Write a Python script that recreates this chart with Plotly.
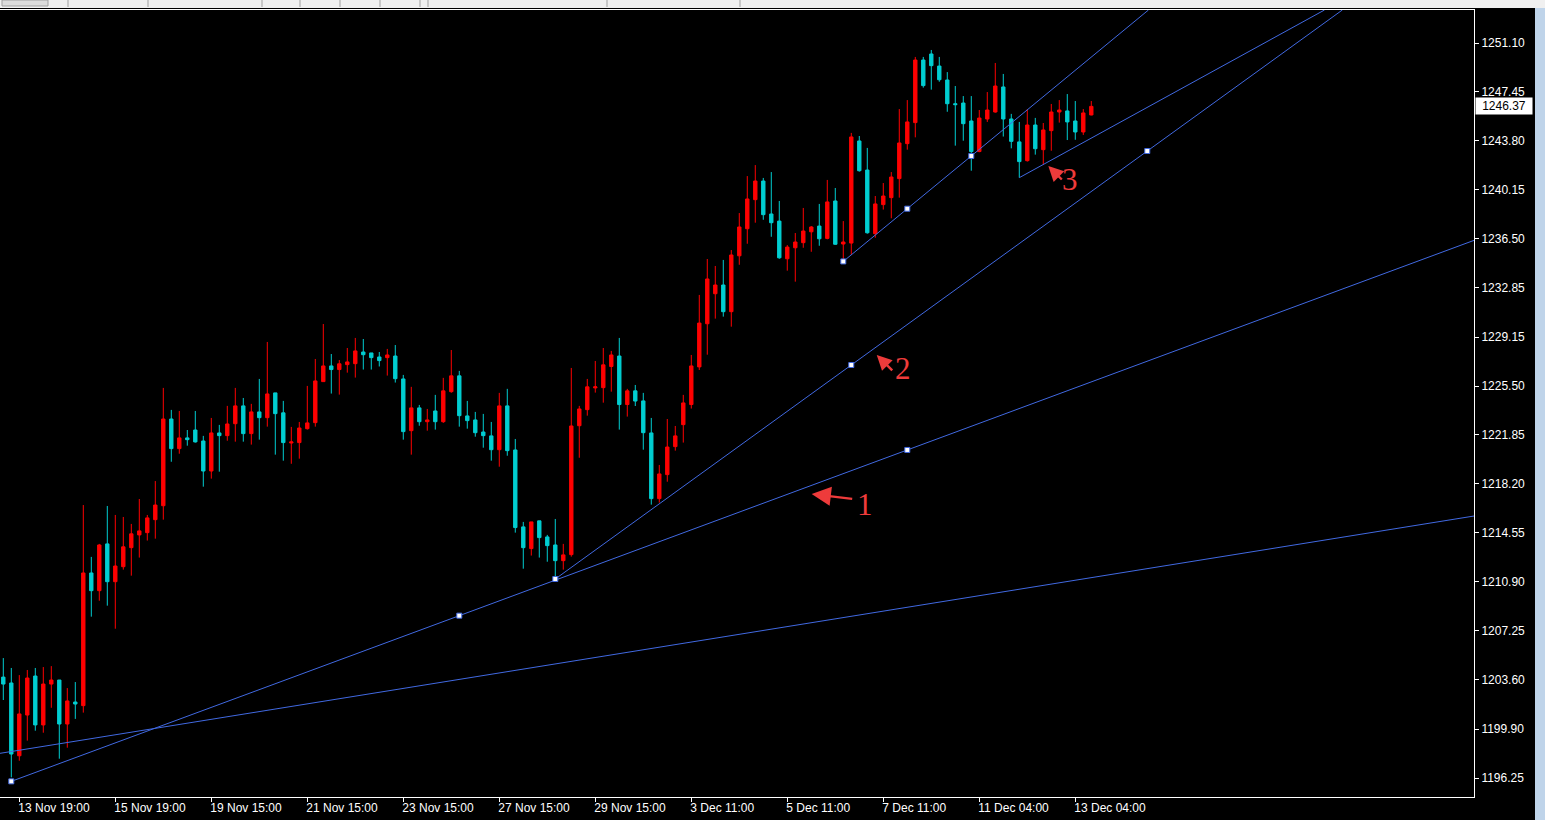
import plotly.graph_objects as go

# ---------------- data (H4 bars, XAUUSD-like) ----------------
bar_index = list(range(137))

open_ = [1203.78, 1203.34, 1197.91, 1200.95, 1203.86, 1200.21, 1203.26, 1203.56, 1200.28, 1201.92,
         1201.65, 1211.55, 1210.23, 1213.72, 1210.90, 1212.02, 1213.44, 1214.39, 1214.56, 1215.53,
         1216.57, 1223.04, 1220.83, 1221.63, 1222.22, 1221.40, 1219.16, 1222.00, 1221.80, 1222.69,
         1224.02, 1221.95, 1223.57, 1223.14, 1224.99, 1223.50, 1221.25, 1221.28, 1222.32, 1222.77,
         1225.83, 1227.00, 1226.73, 1227.10, 1227.17, 1228.04, 1227.97, 1227.67, 1227.62, 1227.74,
         1226.03, 1222.17, 1223.87, 1222.84, 1223.64, 1222.84, 1225.08, 1226.26, 1223.27, 1222.97,
         1222.07, 1221.78, 1220.75, 1224.02, 1220.73, 1214.99, 1213.37, 1215.44, 1214.24, 1213.64,
         1212.47, 1212.92, 1222.54, 1223.74, 1225.36, 1225.38, 1226.96, 1227.74, 1224.12, 1225.14,
         1224.39, 1222.00, 1217.10, 1218.89, 1220.98, 1222.62, 1224.12, 1226.93, 1230.15, 1232.39,
         1233.04, 1231.05, 1235.22, 1237.24, 1239.41, 1240.80, 1238.34, 1237.81, 1235.00, 1235.82,
         1236.20, 1237.01, 1237.44, 1236.52, 1239.31, 1236.10, 1236.17, 1243.79, 1241.62, 1236.87,
         1239.04, 1239.56, 1240.98, 1243.59, 1245.16, 1249.83, 1250.28, 1249.38, 1248.34, 1246.57,
         1246.62, 1245.28, 1243.00, 1245.43, 1245.95, 1247.82, 1245.43, 1243.72, 1242.32, 1244.98,
         1243.14, 1244.56, 1245.95, 1246.03, 1245.28, 1244.46, 1245.73]

high = [1205.20, 1204.46, 1203.93, 1204.31, 1204.46, 1204.53, 1204.60, 1203.56, 1202.96, 1203.41,
        1216.62, 1212.75, 1213.72, 1216.55, 1215.88, 1215.73, 1215.21, 1217.07, 1215.88, 1218.41,
        1225.36, 1223.72, 1223.64, 1222.22, 1223.64, 1221.78, 1223.12, 1222.60, 1224.02, 1225.36,
        1224.61, 1224.17, 1226.03, 1228.79, 1224.99, 1224.39, 1222.45, 1222.82, 1225.51, 1227.52,
        1230.13, 1227.89, 1227.44, 1228.34, 1229.09, 1229.01, 1227.97, 1228.04, 1228.27, 1228.56,
        1226.33, 1225.44, 1224.09, 1223.79, 1224.84, 1226.11, 1228.19, 1226.63, 1224.39, 1223.57,
        1223.42, 1222.82, 1224.99, 1225.29, 1221.55, 1215.36, 1215.36, 1215.44, 1214.39, 1215.58,
        1213.72, 1226.85, 1224.02, 1226.03, 1227.37, 1228.34, 1228.12, 1229.09, 1225.29, 1225.58,
        1224.99, 1223.12, 1219.61, 1223.04, 1222.52, 1224.84, 1227.82, 1232.30, 1234.98, 1234.46,
        1234.91, 1235.65, 1238.41, 1241.17, 1241.99, 1241.03, 1241.47, 1239.31, 1236.02, 1236.92,
        1238.79, 1237.44, 1239.09, 1240.88, 1240.28, 1237.81, 1244.39, 1244.16, 1243.27, 1239.68,
        1240.65, 1241.47, 1246.17, 1246.84, 1250.06, 1250.06, 1250.58, 1250.06, 1248.93, 1247.89,
        1247.14, 1247.14, 1246.10, 1247.44, 1249.61, 1248.79, 1245.81, 1245.21, 1246.17, 1245.51,
        1245.13, 1246.55, 1246.84, 1247.29, 1246.77, 1246.17, 1246.77]

low = [1202.07, 1196.30, 1197.54, 1199.04, 1199.78, 1199.63, 1201.49, 1197.69, 1198.51, 1200.66,
       1201.13, 1208.29, 1209.48, 1209.11, 1207.39, 1211.80, 1211.35, 1212.70, 1213.97, 1214.11,
       1215.53, 1219.85, 1220.45, 1221.05, 1221.28, 1217.99, 1218.59, 1219.11, 1221.42, 1221.35,
       1221.35, 1221.13, 1221.50, 1222.47, 1220.38, 1219.93, 1219.70, 1220.08, 1222.25, 1222.47,
       1225.81, 1224.94, 1224.86, 1226.50, 1226.13, 1226.73, 1226.73, 1226.96, 1226.28, 1225.76,
       1221.50, 1220.38, 1222.54, 1222.17, 1222.25, 1222.75, 1225.00, 1222.47, 1222.32, 1221.72,
       1220.90, 1219.93, 1219.48, 1220.30, 1214.56, 1211.87, 1212.85, 1212.70, 1212.39, 1211.13,
       1211.80, 1212.77, 1220.15, 1223.29, 1225.01, 1224.26, 1225.08, 1222.25, 1223.22, 1224.01,
       1220.75, 1216.65, 1216.80, 1218.36, 1220.68, 1221.28, 1223.82, 1226.70, 1227.84, 1230.53,
       1230.68, 1229.93, 1234.55, 1236.12, 1237.69, 1237.91, 1236.64, 1235.00, 1234.11, 1233.29,
       1235.82, 1235.52, 1235.97, 1236.45, 1236.04, 1234.85, 1235.28, 1241.50, 1236.87, 1236.57,
       1238.67, 1238.02, 1239.56, 1243.14, 1244.06, 1247.77, 1247.62, 1248.21, 1245.97, 1243.44,
       1243.81, 1241.57, 1242.95, 1245.21, 1245.90, 1244.12, 1243.24, 1241.05, 1242.25, 1242.77,
       1242.02, 1243.06, 1245.16, 1243.86, 1243.88, 1244.24, 1245.70]

close = [1203.26, 1198.04, 1201.03, 1203.71, 1200.21, 1203.26, 1203.56, 1200.28, 1202.00, 1201.77,
         1211.55, 1210.23, 1213.64, 1210.90, 1212.07, 1213.50, 1214.47, 1214.69, 1215.66, 1216.62,
         1223.04, 1220.83, 1221.63, 1221.50, 1221.33, 1219.16, 1222.00, 1221.80, 1222.67, 1224.02,
         1221.95, 1223.57, 1223.14, 1224.91, 1223.44, 1221.28, 1221.33, 1222.37, 1222.75, 1225.88,
         1227.00, 1226.73, 1227.16, 1227.30, 1228.12, 1227.84, 1227.62, 1227.40, 1227.82, 1226.05,
         1222.10, 1223.87, 1222.84, 1222.97, 1222.84, 1225.14, 1226.26, 1223.29, 1222.92, 1222.02,
         1221.80, 1220.75, 1224.02, 1220.68, 1214.94, 1213.44, 1215.36, 1214.19, 1213.59, 1212.47,
         1212.90, 1222.52, 1223.79, 1225.44, 1225.44, 1227.08, 1227.82, 1224.12, 1225.14, 1224.38,
         1222.02, 1217.10, 1218.94, 1220.95, 1221.78, 1224.24, 1227.00, 1230.20, 1233.49, 1233.04,
         1231.05, 1235.28, 1237.37, 1239.46, 1240.80, 1238.29, 1237.69, 1235.07, 1235.87, 1236.25,
         1237.07, 1237.37, 1236.49, 1239.24, 1236.08, 1236.25, 1244.09, 1241.57, 1236.94, 1239.09,
         1239.68, 1241.10, 1243.64, 1245.21, 1249.83, 1247.92, 1249.41, 1248.36, 1246.57, 1246.50,
         1245.08, 1243.00, 1245.50, 1246.10, 1247.89, 1245.43, 1243.76, 1242.25, 1244.98, 1243.21,
         1244.61, 1245.95, 1246.10, 1245.21, 1244.46, 1245.88, 1246.37]

date_tick_bars = [2, 14, 26, 38, 50, 62, 74, 86, 98, 110, 122, 134]
date_tick_labels = ["13 Nov 19:00", "15 Nov 19:00", "19 Nov 15:00", "21 Nov 15:00", "23 Nov 15:00",
                    "27 Nov 15:00", "29 Nov 15:00", "3 Dec 11:00", "5 Dec 11:00", "7 Dec 11:00",
                    "11 Dec 04:00", "13 Dec 04:00"]

price_ticks = [1196.25, 1199.90, 1203.60, 1207.25, 1210.90, 1214.55, 1218.20, 1221.85, 1225.50,
               1229.15, 1232.85, 1236.50, 1240.15, 1243.80, 1247.45, 1251.10]

last_price = 1246.37

# trend lines: (bar, price) anchor pairs; all are rays extended to the right
trend_bars = [(-0.41, 183.84), (1, 113), (69, 143), (105, 121), (127, 137)]
trend_prices = [(1198.09, 1215.80), (1196.00, 1220.73), (1211.10, 1243.04), (1234.80, 1242.67), (1241.05, 1244.33)]
selected_lines = [1, 2, 3]  # lines showing anchor handles (start, middle, end)

# red hand-drawn labels: (bar, price) of arrow tip and number
arrow_tip_bars = [101.05, 109.18, 130.63]
arrow_tip_prices = [1217.44, 1227.82, 1241.92]
arrow_tail_px = [(42, 5), (17, 17), (15, 15)]
arrow_sizes = [1.6, 1.25, 1.25]
label_texts = ["1", "2", "3"]
label_bars = [107.71, 112.46, 133.34]
label_prices = [1216.66, 1226.81, 1240.95]

# ---------------- figure ----------------
X_RANGE = [-0.4125, 183.84]
Y_RANGE = [1194.832, 1253.563]
BLUE = "#4169E1"
RED = "#FF0000"
CYAN = "#00CED1"
ARROW_RED = "#EE3B3B"

fig = go.Figure()

fig.add_trace(go.Candlestick(
    x=bar_index, open=open_, high=high, low=low, close=close,
    increasing=dict(line=dict(color=RED, width=1), fillcolor=RED),
    decreasing=dict(line=dict(color=CYAN, width=1), fillcolor=CYAN),
    whiskerwidth=0, showlegend=False, hoverinfo="skip",
))

# trend lines extended as rays to the plot edge
for (b0, b1), (p0, p1) in zip(trend_bars, trend_prices):
    slope = (p1 - p0) / (b1 - b0)
    xe = X_RANGE[1]
    ye = p0 + slope * (xe - b0)
    if ye > Y_RANGE[1]:
        ye = Y_RANGE[1]
        xe = b0 + (ye - p0) / slope
    fig.add_trace(go.Scatter(x=[b0, xe], y=[p0, ye], mode="lines",
                             line=dict(color=BLUE, width=1), showlegend=False, hoverinfo="skip"))

hx, hy = [], []
for i in selected_lines:
    (b0, b1), (p0, p1) = trend_bars[i], trend_prices[i]
    hx += [b0, (b0 + b1) / 2, b1]
    hy += [p0, (p0 + p1) / 2, p1]
fig.add_trace(go.Scatter(x=hx, y=hy, mode="markers",
                         marker=dict(symbol="square", size=5, color="white", line=dict(color=BLUE, width=1)),
                         showlegend=False, hoverinfo="skip"))

annotations = []
for tb, tp, (ax, ay), sz in zip(arrow_tip_bars, arrow_tip_prices, arrow_tail_px, arrow_sizes):
    annotations.append(dict(x=tb, y=tp, xref="x", yref="y", text="", showarrow=True,
                            ax=ax, ay=ay, arrowhead=2, arrowsize=sz, arrowwidth=2.4,
                            arrowcolor=ARROW_RED, standoff=0))
for t, lb, lp in zip(label_texts, label_bars, label_prices):
    annotations.append(dict(x=lb, y=lp, xref="x", yref="y", text=t, showarrow=False,
                            font=dict(family="Liberation Serif", size=31, color=ARROW_RED),
                            xanchor="center", yanchor="middle"))
annotations.append(dict(x=1, y=last_price, xref="paper", yref="y", text=f"{last_price:.2f}",
                        showarrow=False, xanchor="left", yanchor="middle", xshift=1,
                        bgcolor="white", font=dict(family="Liberation Sans", size=12, color="black"),
                        borderpad=1, width=54, align="center"))

W, H = 1545, 820
ML, MR, MT, MB = 0, 71, 10, 23
pw, ph = W - ML - MR, H - MT - MB


def px_x(x):
    return (x - ML) / pw


def px_y(y):
    return (H - MB - y) / ph


shapes = [
    # top toolbar remnant
    dict(type="rect", xref="paper", yref="paper", x0=px_x(0), x1=px_x(W), y0=px_y(8), y1=px_y(0),
         fillcolor="#F0F0F0", line=dict(width=0), layer="above"),
    dict(type="rect", xref="paper", yref="paper", x0=px_x(2), x1=px_x(48), y0=px_y(6), y1=px_y(0),
         fillcolor="#DCDCDC", line=dict(color="#A0A0A0", width=1), layer="above"),
    # right scrollbar
    dict(type="rect", xref="paper", yref="paper", x0=px_x(1535), x1=px_x(W), y0=px_y(H), y1=px_y(8),
         fillcolor="#BFD4EA", line=dict(width=0), layer="above"),
]
for sx in [68, 148, 262, 300, 340, 380, 420, 428, 607, 740]:
    shapes.append(dict(type="line", xref="paper", yref="paper", x0=px_x(sx), x1=px_x(sx),
                       y0=px_y(7), y1=px_y(0), line=dict(color="#A0A0A0", width=1), layer="above"))

fig.update_layout(
    width=W, height=H,
    margin=dict(l=ML, r=MR, t=MT, b=MB),
    paper_bgcolor="black", plot_bgcolor="black",
    boxgap=0.4,
    showlegend=False,
    annotations=annotations,
    shapes=shapes,
    xaxis=dict(range=X_RANGE, tickvals=date_tick_bars, ticktext=date_tick_labels,
               ticks="outside", ticklen=4, tickcolor="white", showgrid=False, zeroline=False,
               showline=True, linecolor="white", linewidth=1, mirror=True,
               tickfont=dict(family="Liberation Sans", size=12, color="white"),
               ticklabelposition="outside right", ticklabelshift=-2,
               rangeslider=dict(visible=False), fixedrange=True),
    yaxis=dict(range=Y_RANGE, side="right", tickvals=price_ticks,
               ticktext=[f"{v:.2f}" for v in price_ticks],
               ticks="outside", ticklen=4, tickcolor="white", showgrid=False, zeroline=False,
               showline=True, linecolor="white", linewidth=1, mirror=True,
               tickfont=dict(family="Liberation Sans", size=12, color="white"), fixedrange=True),
)

fig.write_html("out.html", config={"displayModeBar": False},
               post_script="document.body.style.margin='0';document.body.style.overflow='hidden';")
